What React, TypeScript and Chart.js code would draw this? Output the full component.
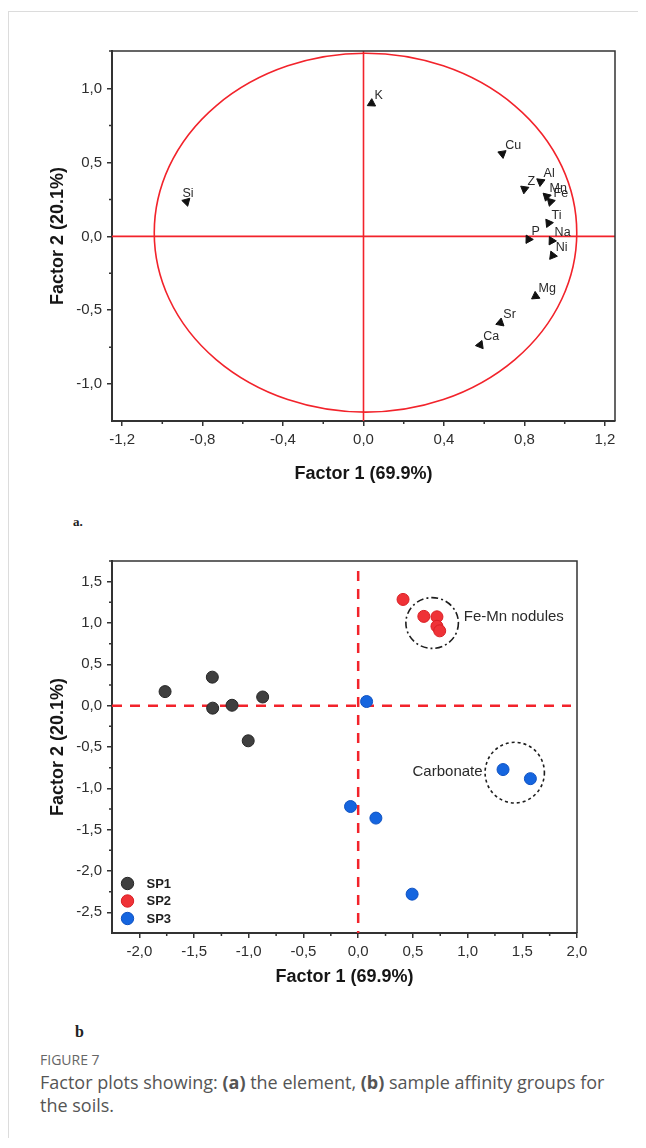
import React, { useEffect, useRef } from "react";
import { Chart, registerables } from "chart.js";

Chart.register(...registerables);

// ---------- Data: (a) element loadings ----------
const elementNames = ["K", "Cu", "Z", "Al", "Mn", "Fe", "Ti", "P", "Na", "Ni", "Mg", "Sr", "Ca", "Si"];
const factor1Loadings = [0.04, 0.69, 0.8, 0.88, 0.91, 0.93, 0.92, 0.82, 0.935, 0.94, 0.855, 0.68, 0.58, -0.88];
const factor2Loadings = [0.9, 0.56, 0.32, 0.37, 0.27, 0.235, 0.09, -0.02, -0.03, -0.13, -0.405, -0.585, -0.735, 0.235];

// reference (correlation) ellipse in data units
const circleCenter = [0.01, 0.025];
const circleRadii = [1.05, 1.215];

const loadingXTicks = [-1.2, -0.8, -0.4, 0, 0.4, 0.8, 1.2];
const loadingXMinor = [-1.0, -0.6, -0.2, 0.2, 0.6, 1.0];
const loadingYTicks = [-1.0, -0.5, 0, 0.5, 1.0];
const loadingYMinor = [-0.75, -0.25, 0.25, 0.75];

// ---------- Data: (b) sample scores ----------
const seriesNames = ["SP1", "SP2", "SP3"];
const sp1X = [-1.765, -1.333, -1.33, -1.153, -0.873, -1.005];
const sp1Y = [0.17, 0.345, -0.03, 0.005, 0.105, -0.425];
const sp2X = [0.41, 0.6, 0.72, 0.72, 0.745];
const sp2Y = [1.285, 1.08, 1.075, 0.96, 0.905];
const sp3X = [0.077, 1.324, 1.574, -0.07, 0.162, 0.493];
const sp3Y = [0.05, -0.773, -0.883, -1.22, -1.36, -2.28];

const scoreXTicks = [-2.0, -1.5, -1.0, -0.5, 0, 0.5, 1.0, 1.5, 2.0];
const scoreXMinor = [-1.75, -1.25, -0.75, -0.25, 0.25, 0.75, 1.25, 1.75];
const scoreYTicks = [-2.5, -2.0, -1.5, -1.0, -0.5, 0, 0.5, 1.0, 1.5];
const scoreYMinor = [-2.25, -1.75, -1.25, -0.75, -0.25, 0.25, 0.75, 1.25];

const groupNames = ["Fe-Mn nodules", "Carbonate"];
const groupCenters = [[0.676, 1.0], [1.431, -0.81]];
const groupRadii = [[0.24, 0.307], [0.271, 0.367]];

const FONT = "'Liberation Sans', Arial, sans-serif";
const AXIS = "#333333";
const RED = "#f2232b";

const fmt = (v: number) => Number(v).toFixed(1).replace(".", ",").replace("-0,0", "0,0");

function axisCommon(ticksArr: number[], title: string, fitFn: (s: any) => void, titlePad: any) {
  return {
    type: "linear" as const,
    afterBuildTicks: (s: any) => {
      s.ticks = ticksArr.map((v) => ({ value: v }));
    },
    afterFit: fitFn,
    ticks: {
      callback: (v: any) => fmt(v),
      font: { family: FONT, size: 15 },
      color: "#2e2e2e",
      padding: 5,
      maxRotation: 0,
      autoSkip: false,
    },
    grid: {
      display: true,
      drawOnChartArea: false,
      drawTicks: true,
      tickLength: 5,
      color: AXIS,
      lineWidth: 1.5,
    },
    border: { display: true, color: AXIS, width: 2 },
    title: {
      display: true,
      text: title,
      font: { family: FONT, size: 18, weight: "bold" as const },
      color: "#161616",
      padding: titlePad,
    },
  };
}

function drawFrameAndMinor(chart: any, xMinor: number[], yMinor: number[]) {
  const { ctx, chartArea: a, scales } = chart;
  const x = scales.x;
  const y = scales.y;
  ctx.save();
  ctx.strokeStyle = AXIS;
  ctx.lineWidth = 1.5;
  ctx.beginPath();
  ctx.moveTo(a.left - 3, a.top);
  ctx.lineTo(a.right, a.top);
  ctx.lineTo(a.right, a.bottom);
  ctx.stroke();
  ctx.lineWidth = 1.5;
  ctx.beginPath();
  xMinor.forEach((v) => {
    const px = x.getPixelForValue(v);
    ctx.moveTo(px, a.bottom);
    ctx.lineTo(px, a.bottom + 3);
  });
  yMinor.forEach((v) => {
    const py = y.getPixelForValue(v);
    ctx.moveTo(a.left, py);
    ctx.lineTo(a.left - 3, py);
  });
  ctx.stroke();
  ctx.restore();
}

const loadingPlugin = {
  id: "loadingDeco",
  beforeDatasetsDraw(chart: any) {
    const { ctx, chartArea: a, scales } = chart;
    const x = scales.x;
    const y = scales.y;
    ctx.save();
    ctx.strokeStyle = RED;
    ctx.lineWidth = 1.6;
    const x0 = x.getPixelForValue(0);
    const y0 = y.getPixelForValue(0);
    ctx.beginPath();
    ctx.moveTo(x0, a.top);
    ctx.lineTo(x0, a.bottom);
    ctx.moveTo(a.left, y0);
    ctx.lineTo(a.right, y0);
    ctx.stroke();
    const cx = x.getPixelForValue(circleCenter[0]);
    const cy = y.getPixelForValue(circleCenter[1]);
    const rx = Math.abs(x.getPixelForValue(circleCenter[0] + circleRadii[0]) - cx);
    const ry = Math.abs(y.getPixelForValue(circleCenter[1] + circleRadii[1]) - cy);
    ctx.beginPath();
    ctx.ellipse(cx, cy, rx, ry, 0, 0, Math.PI * 2);
    ctx.stroke();
    ctx.restore();
  },
  afterDatasetsDraw(chart: any) {
    const { ctx } = chart;
    const meta = chart.getDatasetMeta(0);
    ctx.save();
    ctx.font = `12.5px ${FONT}`;
    ctx.fillStyle = "#2a2a2a";
    ctx.textAlign = "left";
    ctx.textBaseline = "middle";
    meta.data.forEach((pt: any, i: number) => {
      const label = elementNames[i];
      const dx = label === "Si" ? -4 : 3;
      ctx.fillText(label, pt.x + dx, pt.y - 8);
    });
    ctx.restore();
    drawFrameAndMinor(chart, loadingXMinor, loadingYMinor);
  },
};

const scorePlugin = {
  id: "scoreDeco",
  beforeDatasetsDraw(chart: any) {
    const { ctx, chartArea: a, scales } = chart;
    const x = scales.x;
    const y = scales.y;
    ctx.save();
    ctx.strokeStyle = RED;
    ctx.lineWidth = 2.5;
    ctx.setLineDash([10, 8]);
    const x0 = x.getPixelForValue(0);
    const y0 = y.getPixelForValue(0);
    ctx.beginPath();
    ctx.moveTo(x0, a.top + 10);
    ctx.lineTo(x0, a.bottom);
    ctx.stroke();
    ctx.beginPath();
    ctx.moveTo(a.left, y0);
    ctx.lineTo(a.right - 6, y0);
    ctx.stroke();
    ctx.restore();
  },
  afterDatasetsDraw(chart: any) {
    const { ctx, chartArea: a, scales } = chart;
    const x = scales.x;
    const y = scales.y;
    ctx.save();
    // group ellipses
    const dashes = [[7, 3, 2, 3], [3, 3]];
    groupCenters.forEach((c, i) => {
      const cx = x.getPixelForValue(c[0]);
      const cy = y.getPixelForValue(c[1]);
      const rx = Math.abs(x.getPixelForValue(c[0] + groupRadii[i][0]) - cx);
      const ry = Math.abs(y.getPixelForValue(c[1] + groupRadii[i][1]) - cy);
      ctx.strokeStyle = "#1e1e1e";
      ctx.lineWidth = 1.6;
      ctx.setLineDash(dashes[i]);
      ctx.beginPath();
      ctx.ellipse(cx, cy, rx, ry, 0, 0, Math.PI * 2);
      ctx.stroke();
    });
    ctx.setLineDash([]);
    // group labels
    ctx.font = `15px ${FONT}`;
    ctx.fillStyle = "#2a2a2a";
    ctx.textBaseline = "middle";
    ctx.textAlign = "left";
    ctx.fillText(groupNames[0], x.getPixelForValue(0.965), y.getPixelForValue(1.078));
    ctx.textAlign = "right";
    ctx.fillText(groupNames[1], x.getPixelForValue(1.137), y.getPixelForValue(-0.806));
    // legend
    ctx.textAlign = "left";
    ctx.font = `bold 13px ${FONT}`;
    chart.data.datasets.forEach((ds: any, i: number) => {
      const my = a.bottom - 49.5 + i * 17.5;
      const mx = a.left + 15.5;
      ctx.beginPath();
      ctx.arc(mx, my, 6.2, 0, Math.PI * 2);
      ctx.fillStyle = ds.backgroundColor;
      ctx.fill();
      ctx.lineWidth = 1;
      ctx.strokeStyle = ds.borderColor;
      ctx.stroke();
      ctx.fillStyle = "#1e1e1e";
      ctx.fillText(ds.label, mx + 19, my + 0.5);
    });
    ctx.restore();
    drawFrameAndMinor(chart, scoreXMinor, scoreYMinor);
  },
};

function LoadingChart() {
  const ref = useRef<HTMLCanvasElement | null>(null);
  useEffect(() => {
    if (!ref.current) return;
    const pts = elementNames.map((_, i) => ({ x: factor1Loadings[i], y: factor2Loadings[i] }));
    const chart = new Chart(ref.current, {
      type: "scatter",
      data: {
        datasets: [
          {
            label: "Elements",
            data: pts,
            pointStyle: "triangle",
            pointRadius: 4.8,
            backgroundColor: "#111",
            borderColor: "#111",
            borderWidth: 1,
            rotation: (c: any) => {
              const p = c.raw;
              if (!p) return 0;
              return 90 - (Math.atan2(p.y, p.x) * 180) / Math.PI;
            },
          } as any,
        ],
      },
      options: {
        responsive: false,
        animation: false,
        devicePixelRatio: 1,
        layout: { padding: { left: 0, top: 21, right: 25, bottom: 0 } },
        plugins: { legend: { display: false }, tooltip: { enabled: false } },
        scales: {
          x: {
            ...axisCommon(loadingXTicks, "Factor 1 (69.9%)", (s: any) => { s.height = 79; }, { top: 0, bottom: 15 }),
            min: -1.25,
            max: 1.25,
          },
          y: {
            ...axisCommon(loadingYTicks, "Factor 2 (20.1%)", (s: any) => { s.width = 92; }, { top: 27, bottom: 0 }),
            min: -1.25,
            max: 1.255,
          },
        } as any,
      },
      plugins: [loadingPlugin],
    });
    return () => chart.destroy();
  }, []);
  return (
    <canvas
      ref={ref}
      width={620}
      height={470}
      style={{ position: "absolute", left: 12, top: 22, width: 620, height: 470 }}
    />
  );
}

function ScoreChart() {
  const ref = useRef<HTMLCanvasElement | null>(null);
  useEffect(() => {
    if (!ref.current) return;
    const mk = (xs: number[], ys: number[]) => xs.map((v, i) => ({ x: v, y: ys[i] }));
    const chart = new Chart(ref.current, {
      type: "scatter",
      data: {
        datasets: [
          { label: seriesNames[0], data: mk(sp1X, sp1Y), backgroundColor: "#3f3f3f", borderColor: "#262626" },
          { label: seriesNames[1], data: mk(sp2X, sp2Y), backgroundColor: "#ef3237", borderColor: "#d91f25" },
          { label: seriesNames[2], data: mk(sp3X, sp3Y), backgroundColor: "#1565df", borderColor: "#0f52c2" },
        ].map((d) => ({ ...d, pointRadius: 6, borderWidth: 1 })),
      },
      options: {
        responsive: false,
        animation: false,
        devicePixelRatio: 1,
        layout: { padding: { left: 0, top: 20, right: 63, bottom: 0 } },
        plugins: { legend: { display: false }, tooltip: { enabled: false } },
        scales: {
          x: {
            ...axisCommon(scoreXTicks, "Factor 1 (69.9%)", (s: any) => { s.height = 68; }, { top: 0, bottom: 13 }),
            min: -2.25,
            max: 2.0,
          },
          y: {
            ...axisCommon(scoreYTicks, "Factor 2 (20.1%)", (s: any) => { s.width = 92; }, { top: 27, bottom: 0 }),
            min: -2.75,
            max: 1.75,
          },
        } as any,
      },
      plugins: [scorePlugin],
    });
    return () => chart.destroy();
  }, []);
  return (
    <canvas
      ref={ref}
      width={620}
      height={460}
      style={{ position: "absolute", left: 12, top: 533, width: 620, height: 460 }}
    />
  );
}

export default function App() {
  return (
    <div style={{ position: "relative", width: 638, height: 1130, background: "#fff" }}>
      <div
        style={{
          position: "absolute",
          left: 0,
          top: 3,
          width: 638,
          height: 1127,
          borderLeft: "1px solid #dcdcdc",
          borderTop: "1px solid #dcdcdc",
          boxSizing: "border-box",
        }}
      />
      <LoadingChart />
      <div
        style={{
          position: "absolute",
          left: 65,
          top: 506,
          fontFamily: "'Liberation Serif', 'DejaVu Serif', serif",
          fontWeight: "bold",
          fontSize: 13,
          lineHeight: "16px",
          color: "#222",
        }}
      >
        a.
      </div>
      <ScoreChart />
      <div
        style={{
          position: "absolute",
          left: 67,
          top: 1015,
          fontFamily: "'Liberation Serif', 'DejaVu Serif', serif",
          fontWeight: "bold",
          fontSize: 16,
          lineHeight: "18px",
          color: "#222",
        }}
      >
        b
      </div>
      <div
        style={{
          position: "absolute",
          left: 32,
          top: 1043,
          fontFamily: "'Open Sans', 'Noto Sans', sans-serif",
          fontSize: 14,
          lineHeight: "18px",
          color: "#666",
        }}
      >
        FIGURE 7
      </div>
      <div
        style={{
          position: "absolute",
          left: 32,
          top: 1063,
          width: 606,
          fontFamily: "'Open Sans', 'Noto Sans', sans-serif",
          fontSize: 18,
          lineHeight: "23px",
          color: "#555",
          whiteSpace: "nowrap",
        }}
      >
        Factor plots showing: <b>(a)</b> the element, <b>(b)</b> sample affinity groups for
        <br />
        the soils.
      </div>
    </div>
  );
}
